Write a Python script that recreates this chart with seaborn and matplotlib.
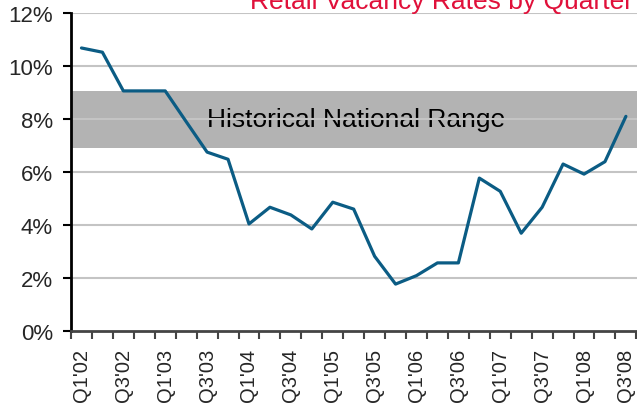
import numpy as np
import pandas as pd
import matplotlib.pyplot as plt
import seaborn as sns

sns.set_theme(style="white")
plt.rcParams['font.family'] = ['Liberation Sans', 'DejaVu Sans']

# quarterly retail vacancy rates (%)
quarters = ["Q1'02", "Q2'02", "Q3'02", "Q4'02",
            "Q1'03", "Q2'03", "Q3'03", "Q4'03",
            "Q1'04", "Q2'04", "Q3'04", "Q4'04",
            "Q1'05", "Q2'05", "Q3'05", "Q4'05",
            "Q1'06", "Q2'06", "Q3'06", "Q4'06",
            "Q1'07", "Q2'07", "Q3'07", "Q4'07",
            "Q1'08", "Q2'08", "Q3'08"]
vacancy = [10.68, 10.52, 9.06, 9.06,
           9.06, 7.90, 6.75, 6.48,
           4.04, 4.67, 4.38, 3.85,
           4.86, 4.60, 2.82, 1.77,
           2.09, 2.57, 2.57, 5.77,
           5.27, 3.69, 4.67, 6.30,
           5.92, 6.39, 8.10]
range_low, range_high = 6.92, 9.07
y_ticks = [0, 2, 4, 6, 8, 10, 12]

df = pd.DataFrame({"quarter": quarters, "vacancy": vacancy})
df["pos"] = np.arange(len(df))

fig = plt.figure(figsize=(6.37, 4.10), dpi=100)
ax = fig.add_axes([71 / 637, 78 / 410, 1 - 71 / 637, 318 / 410])

ax.axhspan(range_low, range_high, color="#b3b3b3", lw=0, zorder=0)
ax.text(13.1, 8.0, "Historical National Range", ha="center", va="center",
        fontsize=19, color="black", zorder=1)
for t in y_ticks[1:]:
    ax.axhline(t, color="#c4c4c4", lw=1.5, zorder=2)

sns.lineplot(data=df, x="pos", y="vacancy", ax=ax, color="#0b5c84",
             lw=2.3, zorder=3)

ax.set_xlim(-0.5, len(df) - 0.47)
ax.set_ylim(0, 12)
ax.set_yticks(y_ticks)
ax.set_yticklabels([f"{t}%" for t in y_ticks], fontsize=16)

# labels on every other quarter, tick marks on category boundaries
ax.set_xticks(df["pos"][::2])
ax.set_xticklabels(df["quarter"][::2], rotation=90, fontsize=14.5)
ax.set_xticks(np.arange(len(df) + 1) - 0.5, minor=True)
ax.tick_params(axis="x", which="major", length=0, pad=12)
ax.tick_params(axis="x", which="minor", length=6, width=1.5, color="#444444",
               direction="out", bottom=True)
ax.tick_params(axis="y", length=6, width=1.5, color="black", pad=7, left=True)
ax.set_xlabel("")
ax.set_ylabel("")

for side in ["top", "right"]:
    ax.spines[side].set_visible(False)
ax.spines["left"].set_color("black")
ax.spines["left"].set_linewidth(2)
ax.spines["bottom"].set_color("#444444")
ax.spines["bottom"].set_linewidth(2)

fig.text(633 / 637, 1 - 9 / 410, "Retail Vacancy Rates by Quarter",
         ha="right", va="baseline", fontsize=19, color="#e0103a")

fig.savefig("out.png", dpi=100)
